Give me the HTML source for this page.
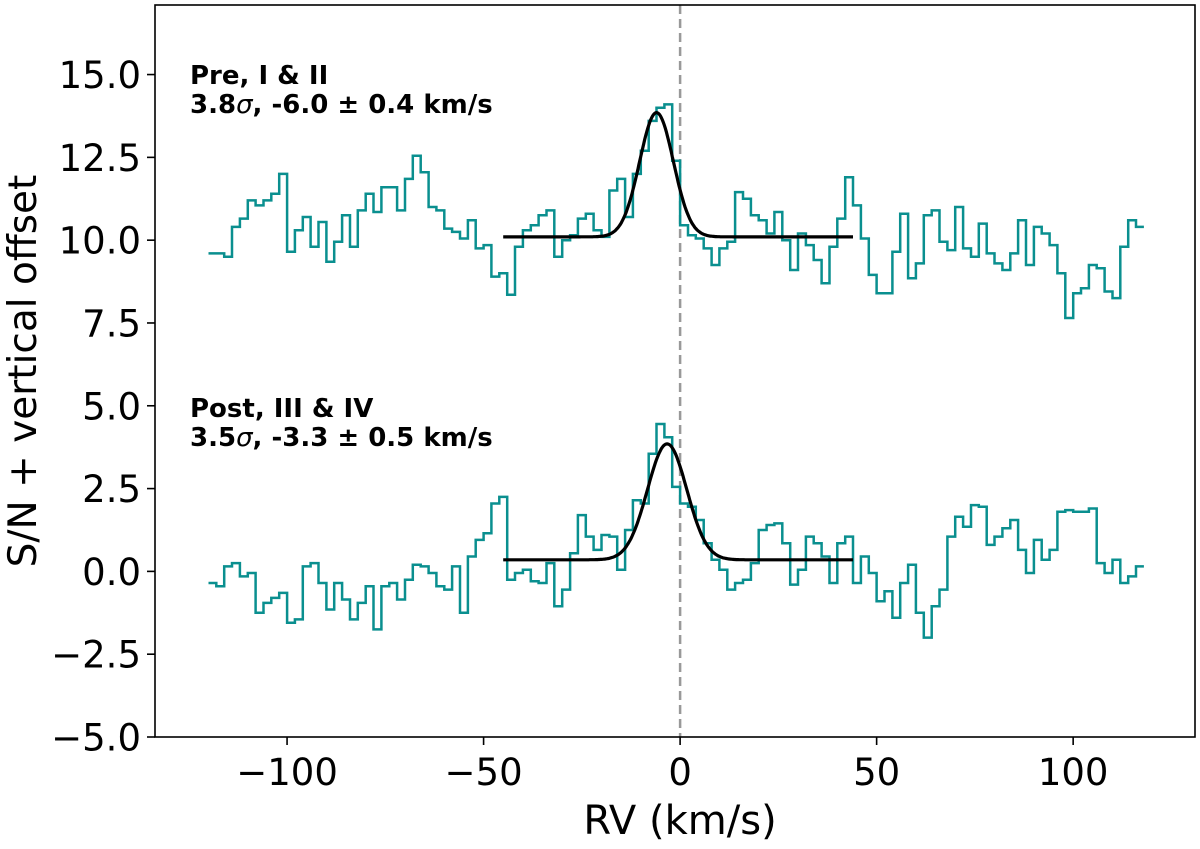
<!DOCTYPE html>
<html><head><meta charset="utf-8"><style>
body{margin:0;background:#fff}
svg text{font-family:"DejaVu Sans","Liberation Sans",sans-serif}
</style></head><body>
<svg id="chart" width="1200" height="844" xmlns="http://www.w3.org/2000/svg">
<g id="plot"></g>
</svg>
<script>
const rvStart = -120, binWidth = 2;
const preValues = [9.6,9.6,9.5,10.4,10.65,11.2,11.05,11.2,11.4,12.0,9.65,10.3,10.7,9.8,10.55,9.35,9.95,10.75,9.8,10.9,11.4,10.85,11.6,11.6,10.9,11.85,12.55,12.05,11.0,10.9,10.35,10.25,10.05,10.6,9.75,9.85,8.9,9.0,8.35,9.8,10.3,10.45,10.75,10.9,9.5,10.0,10.15,10.65,10.8,10.3,10.1,11.5,11.85,10.7,12.0,12.7,13.6,14.0,14.1,12.4,10.45,10.15,10.05,9.75,9.25,9.75,9.95,11.45,11.25,10.75,10.6,10.2,10.85,10.0,9.1,10.2,9.85,9.4,8.7,9.8,10.65,11.9,11.05,10.05,8.95,8.4,8.4,9.65,10.8,8.85,9.3,10.75,10.9,9.95,9.7,11.0,9.75,9.5,10.5,9.6,9.3,9.1,9.6,10.6,9.25,10.4,10.2,9.85,9.0,7.65,8.4,8.55,9.25,9.15,8.45,8.25,9.8,10.6,10.4];
const postValues = [-0.35,-0.45,0.15,0.25,-0.15,-0.05,-1.25,-0.95,-0.8,-0.65,-1.55,-1.45,0.15,0.25,-0.35,-1.15,-0.35,-0.85,-1.45,-0.95,-0.45,-1.75,-0.45,-0.35,-0.85,-0.25,0.2,0.15,-0.05,-0.45,-0.55,0.15,-1.25,0.45,0.95,1.15,2.05,2.25,-0.25,-0.05,0.05,-0.3,-0.35,0.25,-1.05,-0.55,0.55,1.7,1.05,0.65,1.1,1.05,0.05,1.25,2.15,2.05,3.55,4.45,4.05,2.55,2.05,1.95,1.55,0.85,0.35,0.05,-0.55,-0.35,-0.25,0.25,1.25,1.4,1.45,0.85,-0.4,0.05,1.05,0.85,0.45,-0.35,0.85,1.05,-0.35,0.45,-0.05,-0.9,-0.6,-1.4,-0.35,0.2,-1.25,-2.0,-1.05,-0.55,1.05,1.65,1.35,2.0,1.95,0.8,1.05,1.3,1.55,0.65,-0.05,0.95,0.35,0.65,1.8,1.85,1.8,1.8,1.9,0.25,-0.05,0.35,-0.35,-0.15,0.15];
const preFit = [10.1, 3.75, -6.0, 4.3];   // baseline, amplitude, center, sigma
const postFit = [0.35, 3.5, -3.3, 5.0];
const fitRange = [-45, 44];
const xTicks = [-100, -50, 0, 50, 100];
const yTicks = [-5.0, -2.5, 0.0, 2.5, 5.0, 7.5, 10.0, 12.5, 15.0];

const L=155,R=1195,T=5,B=737;
const X0=-133.6,X1=131.0,Y0=-5,Y1=17.1;
const sx=v=>L+(v-X0)/(X1-X0)*(R-L);
const sy=v=>B-(v-Y0)/(Y1-Y0)*(B-T);
const NS="http://www.w3.org/2000/svg";
const g=document.getElementById('plot');
function mk(tag,attrs,parent){const e=document.createElementNS(NS,tag);for(const k in attrs)e.setAttribute(k,attrs[k]);(parent||g).appendChild(e);return e;}

function stepPath(vals){
  let d='';
  vals.forEach((v,i)=>{const a=rvStart+i*binWidth,b=a+binWidth;
    d+=(i?'L':'M')+sx(a).toFixed(1)+','+sy(v).toFixed(1)+'L'+sx(b).toFixed(1)+','+sy(v).toFixed(1);});
  return d;
}
function fitPath(p){
  let d='';
  for(let v=fitRange[0];v<=fitRange[1]+1e-9;v+=0.25){
    const y=p[0]+p[1]*Math.exp(-0.5*Math.pow((v-p[2])/p[3],2));
    d+=(d?'L':'M')+sx(v).toFixed(1)+','+sy(y).toFixed(1);
  }
  return d;
}

const zl=mk('line',{x1:sx(0),x2:sx(0),y1:T,y2:B,stroke:'#999',"stroke-width":2.5,"stroke-dasharray":"9,5"});



const s1=mk('path',{d:stepPath(preValues),fill:'none',stroke:'#0a8f8f',"stroke-width":2.5});


const s2=mk('path',{d:stepPath(postValues),fill:'none',stroke:'#0a8f8f',"stroke-width":2.5});


const f1=mk('path',{d:fitPath(preFit),fill:'none',stroke:'#000',"stroke-width":3.2});


const f2=mk('path',{d:fitPath(postFit),fill:'none',stroke:'#000',"stroke-width":3.2});



const frame=mk('rect',{x:L,y:T,width:R-L,height:B-T,fill:'none',stroke:'#000',"stroke-width":1.6});



xTicks.forEach(t=>{
  const ln=mk('line',{x1:sx(t),x2:sx(t),y1:B,y2:B+8,stroke:'#000',"stroke-width":1.6});
  
  
  const tx=mk('text',{x:sx(t),y:B+48,"text-anchor":"middle","font-size":37});
  tx.textContent=(t<0?'\u2212'+Math.abs(t):t);
  
  
});
yTicks.forEach(t=>{
  const ln=mk('line',{x1:L-8,x2:L,y1:sy(t),y2:sy(t),stroke:'#000',"stroke-width":1.6});
  
  
  const tx=mk('text',{x:L-14,y:sy(t)+13.5,"text-anchor":"end","font-size":37});
  tx.textContent=(t<0?'\u2212':'')+Math.abs(t).toFixed(1);
  
  
});
</script>
<svg width="1200" height="844" style="position:absolute;left:0;top:0" xmlns="http://www.w3.org/2000/svg">
<text x="680" y="834" text-anchor="middle" font-size="40">RV (km/s)</text>
<text transform="translate(36,371) rotate(-90)" text-anchor="middle" font-size="39">S/N + vertical offset</text>
<text x="190" y="84" font-size="26" font-weight="bold">Pre, I &amp; II</text>
<text x="190" y="113" font-size="26" font-weight="bold">3.8<tspan font-style="italic" font-weight="normal">σ</tspan>, -6.0 ± 0.4 km/s</text>
<text x="190" y="417" font-size="26" font-weight="bold">Post, III &amp; IV</text>
<text x="190" y="446" font-size="26" font-weight="bold">3.5<tspan font-style="italic" font-weight="normal">σ</tspan>, -3.3 ± 0.5 km/s</text>
</svg>
</body></html>
